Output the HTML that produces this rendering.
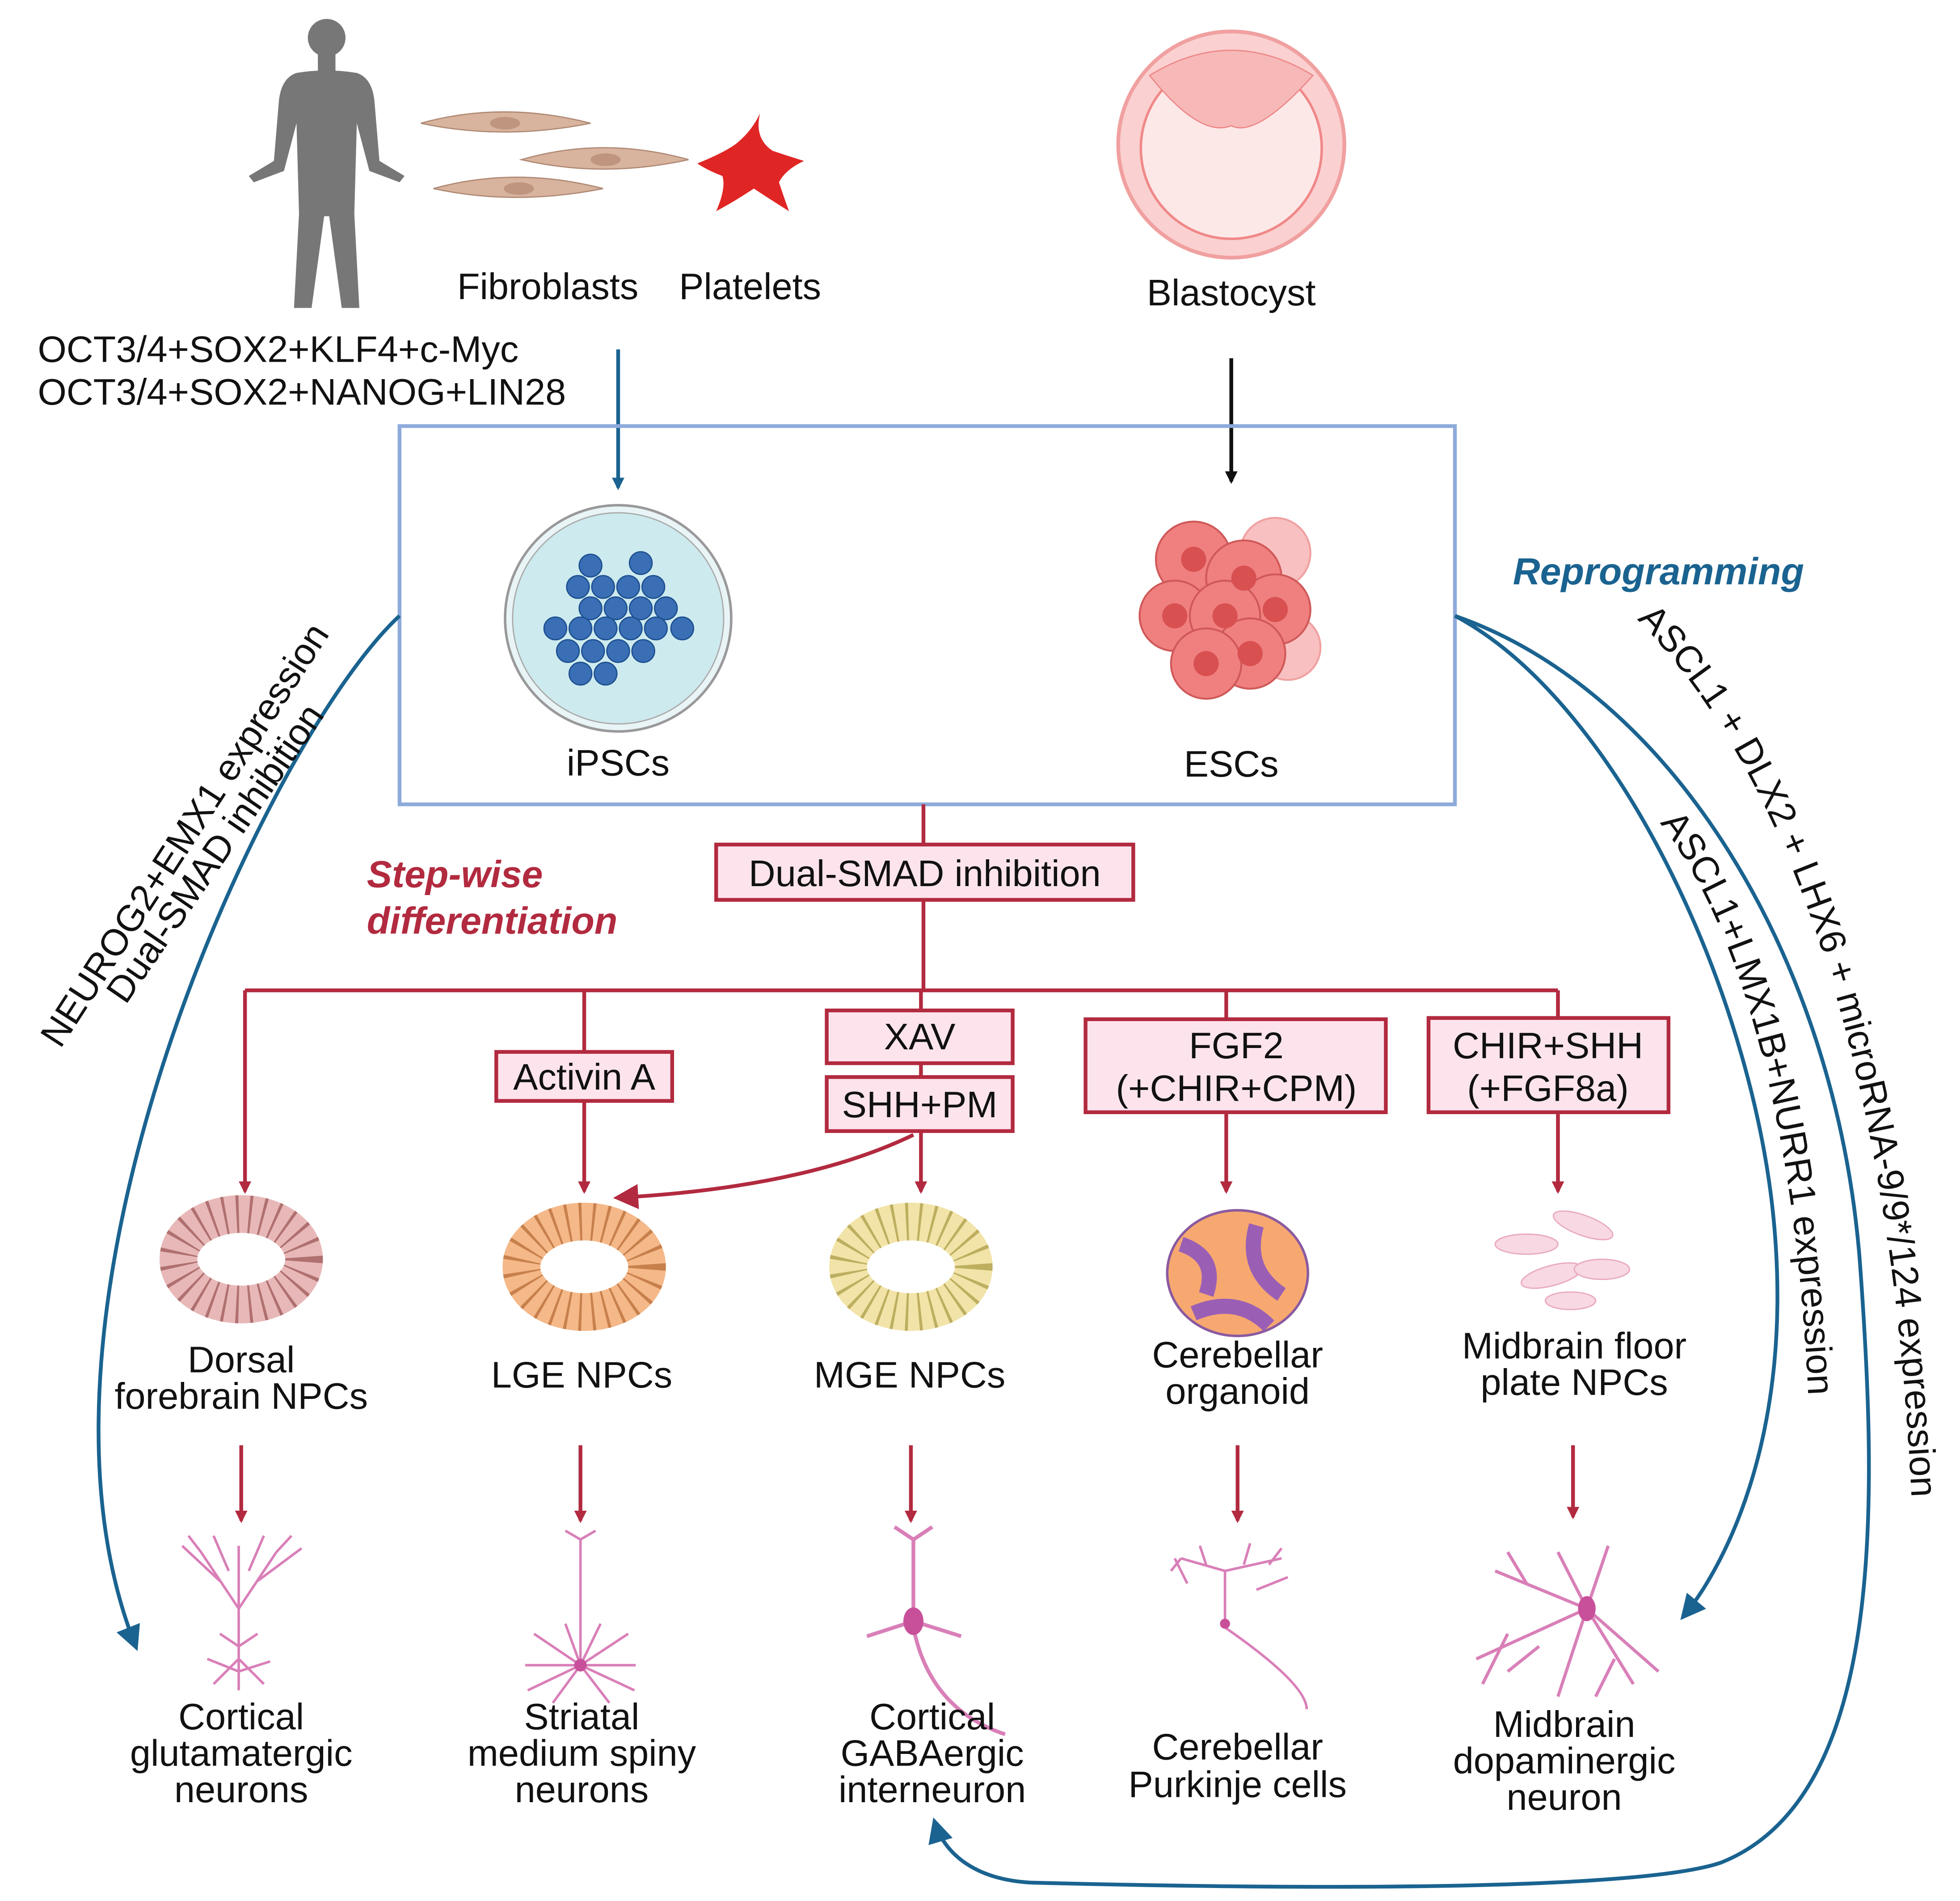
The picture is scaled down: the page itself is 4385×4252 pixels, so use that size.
<!DOCTYPE html>
<html><head><meta charset="utf-8"><style>
html,body{margin:0;padding:0;background:#fff;}
svg{display:block;}
text{font-family:"Liberation Sans",sans-serif;fill:#111;}
</style></head><body>
<svg width="4385" height="4252" viewBox="0 0 1560 1512.6" xmlns="http://www.w3.org/2000/svg">
<defs>
<marker id="ab" markerWidth="10" markerHeight="10" refX="8" refY="5" orient="auto" markerUnits="userSpaceOnUse" viewBox="0 0 10 10"><path d="M0,0 L10,5 L0,10 Z" fill="#1a6390"/></marker>
<marker id="ar" markerWidth="10" markerHeight="10" refX="8" refY="5" orient="auto" markerUnits="userSpaceOnUse" viewBox="0 0 10 10"><path d="M0,0 L10,5 L0,10 Z" fill="#b22a3f"/></marker>
<marker id="ak" markerWidth="10" markerHeight="10" refX="8" refY="5" orient="auto" markerUnits="userSpaceOnUse" viewBox="0 0 10 10"><path d="M0,0 L10,5 L0,10 Z" fill="#111"/></marker>
<marker id="abL" markerWidth="20" markerHeight="20" refX="16" refY="10" orient="auto" markerUnits="userSpaceOnUse" viewBox="0 0 20 20"><path d="M0,0 L20,10 L0,20 Z" fill="#1a6390"/></marker>
<marker id="arL" markerWidth="20" markerHeight="20" refX="16" refY="10" orient="auto" markerUnits="userSpaceOnUse" viewBox="0 0 20 20"><path d="M0,0 L20,10 L0,20 Z" fill="#b22a3f"/></marker>
<path id="tp1" d="M1303,493 C1400,590 1505,800 1522,1205"/>
<path id="tp2" d="M1321,655 C1385,735 1432,900 1440,1130"/>
</defs>

<!-- human -->
<g fill="#777">
<circle cx="260" cy="30" r="15"/>
<rect x="253" y="43" width="14" height="14"/>
<path d="M236,58 Q260,54 284,58 Q296,62 298,80 L302,128 L322,140 L318,145 L294,136 L284,98 L282,170 L286,245 L272,245 L262,172 L258,172 L248,245 L234,245 L238,170 L236,98 L226,136 L202,145 L198,140 L218,128 L222,80 Q224,62 236,58 Z"/>
</g>
<!-- fibroblasts -->
<g fill="#d8b49e" stroke="#b08a75" stroke-width="1">
<path d="M335,98 Q400,80 470,98 Q400,112 335,98Z"/>
<path d="M415,127 Q480,108 548,127 Q480,142 415,127Z"/>
<path d="M345,150 Q410,132 480,150 Q410,164 345,150Z"/>
</g>
<g fill="#c09580"><ellipse cx="402" cy="98" rx="12" ry="5"/><ellipse cx="482" cy="127" rx="12" ry="5"/><ellipse cx="413" cy="150" rx="12" ry="5"/></g>
<!-- platelet -->
<path d="M605,90 Q600,110 615,120 Q630,125 640,128 Q625,135 620,145 Q625,160 628,168 Q612,158 600,150 Q585,160 570,168 Q578,150 575,140 Q562,135 555,130 Q575,122 585,115 Q598,105 605,90 Z" fill="#e02525"/>
<text x="436" y="238" font-size="29.5" text-anchor="middle">Fibroblasts</text>
<text x="597" y="238" font-size="29.5" text-anchor="middle">Platelets</text>
<!-- blastocyst -->
<circle cx="980" cy="115" r="90" fill="#fbd0d0" stroke="#f0a0a0" stroke-width="3"/>
<circle cx="980" cy="118" r="72" fill="#fde8e8" stroke="#f08888" stroke-width="2"/>
<path d="M915,60 Q980,20 1045,60 Q1000,110 980,100 Q955,110 915,60Z" fill="#f7b8b8" stroke="#ee8888"/>
<text x="980" y="243" font-size="29.5" text-anchor="middle">Blastocyst</text>

<text x="30" y="288" font-size="29.5">OCT3/4+SOX2+KLF4+c-Myc</text>
<text x="30" y="322" font-size="29.5">OCT3/4+SOX2+NANOG+LIN28</text>

<line x1="492" y1="278" x2="492" y2="388" stroke="#1a6390" stroke-width="3" marker-end="url(#ab)"/>
<line x1="980" y1="285" x2="980" y2="383" stroke="#111" stroke-width="3" marker-end="url(#ak)"/>

<rect x="318" y="339" width="840" height="301" fill="none" stroke="#8eaadb" stroke-width="3"/>
<!-- iPSC dish -->
<circle cx="492" cy="492" r="90" fill="#e9f4f6" stroke="#999" stroke-width="2"/>
<circle cx="492" cy="492" r="84" fill="#cdeaee" stroke="#aaa" stroke-width="1"/>
<g fill="#3a6fb5" stroke="#1d4f90">
<circle cx="470" cy="450" r="9"/><circle cx="510" cy="448" r="9"/><circle cx="460" cy="467" r="9"/><circle cx="480" cy="467" r="9"/><circle cx="500" cy="467" r="9"/><circle cx="520" cy="467" r="9"/>
<circle cx="470" cy="484" r="9"/><circle cx="490" cy="484" r="9"/><circle cx="510" cy="484" r="9"/><circle cx="530" cy="484" r="9"/>
<circle cx="442" cy="500" r="9"/><circle cx="462" cy="500" r="9"/><circle cx="482" cy="500" r="9"/><circle cx="502" cy="500" r="9"/><circle cx="522" cy="500" r="9"/><circle cx="543" cy="500" r="9"/>
<circle cx="452" cy="518" r="9"/><circle cx="472" cy="518" r="9"/><circle cx="492" cy="518" r="9"/><circle cx="512" cy="518" r="9"/>
<circle cx="462" cy="536" r="9"/><circle cx="482" cy="536" r="9"/>
</g>
<text x="492" y="617" font-size="29.5" text-anchor="middle">iPSCs</text>
<!-- ESCs -->
<g fill="#f08080" stroke="#d05858" stroke-width="1.5">
<circle cx="1015" cy="440" r="28" fill="#f8c0c0" stroke="#f0a0a0"/>
<circle cx="1025" cy="515" r="26" fill="#f8c0c0" stroke="#f0a0a0"/>
<circle cx="950" cy="445" r="30"/><circle cx="990" cy="460" r="30"/><circle cx="935" cy="490" r="28"/><circle cx="1015" cy="485" r="28"/><circle cx="975" cy="490" r="28"/><circle cx="995" cy="520" r="28"/><circle cx="960" cy="528" r="28"/>
</g>
<g fill="#d95050"><circle cx="950" cy="445" r="10"/><circle cx="990" cy="460" r="10"/><circle cx="935" cy="490" r="10"/><circle cx="1015" cy="485" r="10"/><circle cx="975" cy="490" r="10"/><circle cx="995" cy="520" r="10"/><circle cx="960" cy="528" r="10"/></g>
<text x="980" y="618" font-size="29.5" text-anchor="middle">ESCs</text>

<text x="1320" y="465" font-size="30" font-weight="bold" font-style="italic" text-anchor="middle" style="fill:#1a6390">Reprogramming</text>
<text x="292" y="706" font-size="30" font-weight="bold" font-style="italic" style="fill:#b22a3f">Step-wise</text>
<text x="292" y="743" font-size="30" font-weight="bold" font-style="italic" style="fill:#b22a3f">differentiation</text>

<!-- red tree -->
<g stroke="#b22a3f" stroke-width="3" fill="none">
<line x1="735" y1="640" x2="735" y2="672"/>
<line x1="735" y1="716" x2="735" y2="788"/>
<line x1="195" y1="788" x2="1240" y2="788"/>
<line x1="195" y1="788" x2="195" y2="948" marker-end="url(#ar)"/>
<line x1="465" y1="788" x2="465" y2="837"/>
<line x1="465" y1="876" x2="465" y2="948" marker-end="url(#ar)"/>
<line x1="733" y1="788" x2="733" y2="804"/>
<line x1="733" y1="846" x2="733" y2="857"/>
<line x1="733" y1="900" x2="733" y2="948" marker-end="url(#ar)"/>
<line x1="976" y1="788" x2="976" y2="811"/>
<line x1="976" y1="885" x2="976" y2="948" marker-end="url(#ar)"/>
<line x1="1240" y1="788" x2="1240" y2="810"/>
<line x1="1240" y1="885" x2="1240" y2="948" marker-end="url(#ar)"/>
<path d="M727,903 Q640,945 492,953" marker-end="url(#arL)"/>
</g>
<g fill="#fde4ec" stroke="#b22a3f" stroke-width="3">
<rect x="570" y="672" width="332" height="44"/>
<rect x="395" y="837" width="140" height="39"/>
<rect x="658" y="804" width="148" height="42"/>
<rect x="658" y="857" width="148" height="43"/>
<rect x="864" y="811" width="239" height="74"/>
<rect x="1137" y="810" width="191" height="75"/>
</g>
<g font-size="29.5" text-anchor="middle">
<text x="736" y="705">Dual-SMAD inhibition</text>
<text x="465" y="867">Activin A</text>
<text x="732" y="835">XAV</text>
<text x="732" y="889">SHH+PM</text>
<text x="984" y="842">FGF2</text>
<text x="984" y="876">(+CHIR+CPM)</text>
<text x="1232" y="842">CHIR+SHH</text>
<text x="1232" y="876">(+FGF8a)</text>
</g>

<!-- NPC rosettes -->
<ellipse cx="192" cy="1002" rx="50" ry="36" fill="none" stroke="#e8b8b8" stroke-width="30"/>
<ellipse cx="192" cy="1002" rx="50" ry="36" fill="none" stroke="#8a4040" stroke-width="30" stroke-dasharray="2 8" opacity="0.6"/>
<ellipse cx="465" cy="1008" rx="50" ry="36" fill="none" stroke="#f5b888" stroke-width="30"/>
<ellipse cx="465" cy="1008" rx="50" ry="36" fill="none" stroke="#a85a25" stroke-width="30" stroke-dasharray="2 8" opacity="0.6"/>
<ellipse cx="725" cy="1008" rx="50" ry="36" fill="none" stroke="#f2e4a8" stroke-width="30"/>
<ellipse cx="725" cy="1008" rx="50" ry="36" fill="none" stroke="#9a8a30" stroke-width="30" stroke-dasharray="2 8" opacity="0.6"/>
<ellipse cx="985" cy="1013" rx="56" ry="50" fill="#f6a870" stroke="#8a5aa0" stroke-width="2"/>
<path d="M940,990 Q970,1000 960,1030 M1000,975 Q990,1010 1020,1030 M950,1045 Q985,1030 1010,1055" stroke="#9a5fb5" stroke-width="12" fill="none"/>
<g fill="#f8d8e2" stroke="#e8a8c0"><ellipse cx="1215" cy="990" rx="25" ry="8"/><ellipse cx="1260" cy="975" rx="25" ry="8" transform="rotate(20 1260 975)"/><ellipse cx="1235" cy="1015" rx="25" ry="8" transform="rotate(-15 1235 1015)"/><ellipse cx="1275" cy="1010" rx="22" ry="8"/><ellipse cx="1250" cy="1035" rx="20" ry="7"/></g>

<g font-size="29.5" text-anchor="middle">
<text x="192" y="1092">Dorsal</text><text x="192" y="1121">forebrain NPCs</text>
<text x="463" y="1104">LGE NPCs</text>
<text x="724" y="1104">MGE NPCs</text>
<text x="985" y="1088">Cerebellar</text><text x="985" y="1117">organoid</text>
<text x="1253" y="1081">Midbrain floor</text><text x="1253" y="1110">plate NPCs</text>
</g>
<g stroke="#b22a3f" stroke-width="3">
<line x1="192" y1="1150" x2="192" y2="1210" marker-end="url(#ar)"/>
<line x1="462" y1="1150" x2="462" y2="1210" marker-end="url(#ar)"/>
<line x1="725" y1="1150" x2="725" y2="1210" marker-end="url(#ar)"/>
<line x1="985" y1="1150" x2="985" y2="1210" marker-end="url(#ar)"/>
<line x1="1252" y1="1150" x2="1252" y2="1207" marker-end="url(#ar)"/>
</g>

<!-- neurons -->
<g stroke="#d97fb8" stroke-width="2" fill="none">
<path d="M190,1345 L190,1230 M190,1280 L160,1235 M190,1280 L220,1235 M175,1258 L145,1230 M205,1258 L240,1232 M160,1235 L150,1222 M220,1235 L232,1222 M182,1250 L170,1222 M198,1250 L210,1222 M190,1320 L170,1340 M190,1320 L210,1340 M190,1330 L165,1320 M190,1330 L215,1322 M190,1310 L175,1300 M190,1310 L205,1300"/>
<path d="M462,1330 L462,1225 M462,1225 L450,1218 M462,1225 L474,1218 M462,1325 L425,1300 M462,1325 L500,1300 M462,1325 L420,1345 M462,1325 L505,1345 M462,1325 L440,1355 M462,1325 L485,1355 M462,1325 L450,1292 M462,1325 L478,1292 M462,1325 L418,1325 M462,1325 L506,1325"/>
<path d="M727,1290 L727,1225 M727,1225 L712,1215 M727,1225 L742,1215 M727,1290 L690,1302 M727,1290 L765,1302 M727,1295 Q740,1360 800,1380" stroke-width="3"/>
<path d="M975,1290 L975,1250 M975,1250 L940,1240 M975,1250 L1020,1240 M945,1260 L935,1240 M1000,1265 L1025,1255 M960,1245 L955,1230 M990,1245 L995,1228 M1010,1245 L1020,1232 M940,1240 L932,1250 M975,1295 Q1040,1340 1040,1360"/>
<path d="M1263,1280 L1240,1235 M1263,1280 L1280,1230 M1263,1280 L1190,1250 M1263,1280 L1175,1320 M1263,1280 L1240,1350 M1263,1280 L1300,1340 M1263,1280 L1320,1330 M1200,1300 L1180,1340 M1285,1320 L1270,1350 M1215,1260 L1200,1235 M1225,1310 L1200,1330" stroke-width="2.5"/>
</g>
<g fill="#c8509a"><ellipse cx="727" cy="1290" rx="8" ry="11"/><circle cx="462" cy="1325" r="5"/><circle cx="975" cy="1292" r="4"/><ellipse cx="1263" cy="1280" rx="7" ry="10"/></g>

<g font-size="29.5" text-anchor="middle">
<text x="192" y="1376">Cortical</text><text x="192" y="1405">glutamatergic</text><text x="192" y="1434">neurons</text>
<text x="463" y="1376">Striatal</text><text x="463" y="1405">medium spiny</text><text x="463" y="1434">neurons</text>
<text x="742" y="1376">Cortical</text><text x="742" y="1405">GABAergic</text><text x="742" y="1434">interneuron</text>
<text x="985" y="1400">Cerebellar</text><text x="985" y="1430">Purkinje cells</text>
<text x="1245" y="1382">Midbrain</text><text x="1245" y="1411">dopaminergic</text><text x="1245" y="1440">neuron</text>
</g>

<!-- blue curves -->
<g stroke="#1a6390" stroke-width="3" fill="none">
<path d="M318,490 C215,585 0,1040 108,1310" marker-end="url(#abL)"/>
<path d="M1158,490 C1290,560 1400,800 1413,986 C1425,1150 1370,1250 1340,1286" marker-end="url(#abL)"/>
<path d="M1158,490 C1330,550 1460,760 1480,1000 C1495,1200 1500,1430 1370,1482 C1290,1510 900,1500 820,1498 C770,1495 750,1470 744,1450" marker-end="url(#abL)"/>
</g>

<g font-size="29.5">
<text transform="translate(48,835) rotate(-57)">NEUROG2+EMX1 expression</text>
<text transform="translate(100,800) rotate(-55.5)">Dual-SMAD inhibition</text>
<text><textPath href="#tp1">ASCL1 + DLX2 + LHX6 + microRNA-9/9*/124 expression</textPath></text>
<text><textPath href="#tp2">ASCL1+LMX1B+NURR1 expression</textPath></text>
</g>
</svg>
</body></html>
